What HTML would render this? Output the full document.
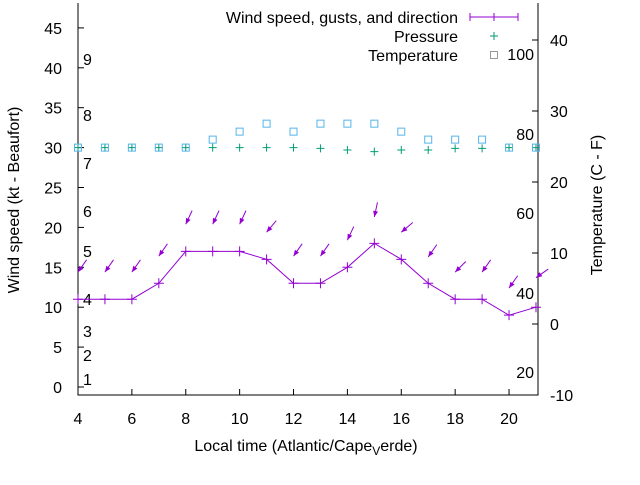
<!DOCTYPE html>
<html><head><meta charset="utf-8"><style>
body{margin:0;background:#fff}
svg{font-family:"Liberation Sans",sans-serif;font-size:16px}
</style></head><body>
<svg id="c" width="640" height="480"></svg>
<script>
const hours=[4,5,6,7,8,9,10,11,12,13,14,15,16,17,18,19,20,21];
const wind=[11,11,11,13,17,17,17,16,13,13,15,18,16,13,11,11,9,10];
const gust=[14.4,14.4,14.4,16.4,20.4,20.4,20.4,19.4,16.4,16.4,18.4,21.3,19.4,16.3,14.4,14.4,12.4,13.7];
const dirFrom=[35,35,35,35,25,25,25,40,35,35,25,12,50,35,45,35,35,55];
const pressure=[30,30,30,30,30,30,30,30,30,29.9,29.7,29.5,29.7,29.7,29.9,29.9,30,30];
const temperature=[30,30,30,30,30,31,32,33,32,33,33,33,32,31,31,31,30,30];
const leftTicks=[0,5,10,15,20,25,30,35,40,45];
const rightTicks=[-10,0,10,20,30,40];
const xTicks=[4,6,8,10,12,14,16,18,20];
const beaufortLabels=[["1",379],["2",355],["3",331],["4",299],["5",251],["6",211],["7",163],["8",115],["9",59]];
const fLabels=[["100",54],["80",134],["60",213],["40",293],["20",372]];

const X0=78,X1=538,YB=395;
const x=h=>78+(h-4)*26.94;
const yl=v=>387-v*7.98;
const yr=v=>324-v*7.1;
const svg=document.getElementById('c');
const NS='http://www.w3.org/2000/svg';
function el(t,a,p){const e=document.createElementNS(NS,t);for(const k in a)e.setAttribute(k,a[k]);(p||svg).appendChild(e);return e;}

let e;
e=el('path',{d:`M${X0},3V${YB}H${X1}V3`,stroke:'#000',fill:'none','stroke-width':1});

leftTicks.forEach(v=>{
  el('line',{x1:X0,x2:X0+6,y1:yl(v),y2:yl(v),stroke:'#000'});
  e=el('text',{x:62,y:yl(v)+6,'text-anchor':'end'});e.textContent=v;
  
});
rightTicks.forEach(v=>{
  el('line',{x1:X1-6,x2:X1,y1:yr(v),y2:yr(v),stroke:'#000'});
  e=el('text',{x:550,y:yr(v)+6});e.textContent=v;
  
});
xTicks.forEach(v=>{
  el('line',{x1:x(v),x2:x(v),y1:YB,y2:YB-6,stroke:'#000'});
  e=el('text',{x:x(v),y:424,'text-anchor':'middle'});e.textContent=v;
  
});
beaufortLabels.forEach(([t,y])=>{e=el('text',{x:83,y:y+6});e.textContent=t;
  });
fLabels.forEach(([t,y])=>{e=el('text',{x:534,y:y+6,'text-anchor':'end'});e.textContent=t;
  });

e=el('text',{x:0,y:0,transform:'translate(19,200) rotate(-90)','text-anchor':'middle'});e.textContent='Wind speed (kt - Beaufort)';

e=el('text',{x:0,y:0,transform:'translate(602,205) rotate(-90)','text-anchor':'middle'});e.textContent='Temperature (C - F)';

e=el('text',{x:306,y:451,'text-anchor':'middle'});
e.innerHTML='Local time (Atlantic/Cape<tspan dy="4" font-size="12">V</tspan><tspan dy="-4">erde)</tspan>';


e=el('polyline',{points:hours.map((h,i)=>x(h)+','+yl(wind[i])).join(' '),fill:'none',stroke:'#9400d3','stroke-width':1});

hours.forEach((h,i)=>{const cx=x(h),cy=yl(wind[i]);
  e=el('path',{d:`M${cx-5},${cy}h10M${cx},${cy-5}v10`,stroke:'#9400d3'});
  
  const gx=cx,gy=yl(gust[i]),a=dirFrom[i]*Math.PI/180,L=15;
  const tx=gx+L*Math.sin(a),ty=gy-L*Math.cos(a);
  const g=el('g',{});
  
  el('line',{x1:tx,y1:ty,x2:gx,y2:gy,stroke:'#9400d3'},g);
  const ux=Math.sin(a),uy=-Math.cos(a),px=-uy,py=ux;
  el('polygon',{points:`${gx},${gy} ${gx+6*ux+2.5*px},${gy+6*uy+2.5*py} ${gx+6*ux-2.5*px},${gy+6*uy-2.5*py}`,fill:'#9400d3'},g);
});
hours.forEach((h,i)=>{const cx=x(h),cy=yl(pressure[i]);
  e=el('path',{d:`M${cx-4},${cy}h8M${cx},${cy-4}v8`,stroke:'#009e73'});
  });
hours.forEach((h,i)=>{const cx=x(h),cy=yl(temperature[i]);
  e=el('rect',{x:cx-3.5,y:cy-3.5,width:7,height:7,fill:'none',stroke:'#56b4e9'});
  });

const lg=el('g',{});
[['Wind speed, gusts, and direction',17],['Pressure',36],['Temperature',55]].forEach(([t,y],k)=>{
  const te=el('text',{x:458,y:y+6,'text-anchor':'end'},lg);te.textContent=t;
  
});
el('path',{d:'M470,17H518M470,13v8M518,13v8M494,13v8',stroke:'#9400d3'},lg);
el('path',{d:'M490,36h8M494,32v8',stroke:'#009e73'},lg);
el('rect',{x:490.5,y:51.5,width:7,height:7,fill:'none',stroke:'#999'},lg);
</script>
</body></html>
